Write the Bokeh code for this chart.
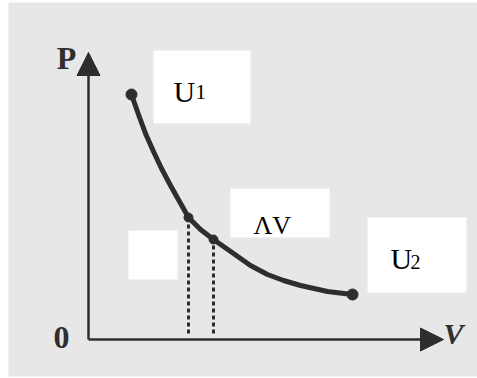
from bokeh.plotting import figure
from bokeh.models import Range1d, Arrow, NormalHead
from bokeh.core.properties import value
from bokeh.embed import file_html
from bokeh.resources import INLINE

# P-V curve (arbitrary units)
V_curve = [4.3, 5.0, 5.7, 6.5, 7.3, 8.2, 9.1, 10.0, 11.2, 12.5, 14.5, 16.2, 17.9, 19.5, 21.2, 23.9, 26.4]
P_curve = [24.5, 22.5, 20.6, 18.8, 17.1, 15.4, 13.8, 12.2, 11.0, 10.0, 8.6, 7.4, 6.5, 5.9, 5.4, 4.8, 4.5]

# marked states: U1, two points bounding dV, U2
V_states = [4.3, 10.0, 12.5, 26.4]
P_states = [24.5, 12.2, 10.0, 4.5]
state_sizes = [11, 9, 9, 11]

# dashed drop lines for the dV strip
V_drop = [10.0, 12.5]
P_drop_top = [12.2, 10.0]
P_drop_bottom = [0.6, 0.6]

# white label boxes (left, right, top, bottom)
box_left = [6.5, 14.2, 4.0, 27.9]
box_right = [16.2, 24.1, 8.9, 37.8]
box_top = [28.9, 15.1, 10.9, 12.2]
box_bottom = [21.6, 10.2, 6.0, 4.7]

INK = "#2e2e2e"
BG = "#e7e7e7"

p = figure(width=477, height=378, output_backend="svg", toolbar_location=None,
           x_range=Range1d(-8.0, 38.9), y_range=Range1d(-3.7, 33.7),
           min_border=0, min_border_left=8, min_border_bottom=2, min_border_top=2,
           background_fill_color=BG, border_fill_color="white")
p.xaxis.visible = False
p.yaxis.visible = False
p.grid.visible = False
p.outline_line_color = None

# axes with arrow heads
p.add_layout(Arrow(end=NormalHead(size=23, fill_color=INK, line_color=INK),
                   x_start=0, y_start=0, x_end=0, y_end=28.7,
                   line_width=2.5, line_color=INK))
p.add_layout(Arrow(end=NormalHead(size=23, fill_color=INK, line_color=INK),
                   x_start=0, y_start=0, x_end=35.5, y_end=0,
                   line_width=2.5, line_color=INK))

# dashed drop lines
p.segment(x0=V_drop, y0=P_drop_bottom, x1=V_drop, y1=P_drop_top,
          line_color=INK, line_width=3, line_dash="4 3")

# curve and states
p.line(V_curve, P_curve, line_color=INK, line_width=5, line_join="round", line_cap="round")
p.scatter(V_states, P_states, size=state_sizes, fill_color=INK, line_color=INK)

# white boxes
p.quad(left=box_left, right=box_right, top=box_top, bottom=box_bottom,
       fill_color="white", line_color=None)

serif = value("Liberation Serif")

# axis labels
p.text(x=[-2.2], y=[28.2], text=["P"], text_font=serif, text_font_size="32px",
       text_font_style="bold", text_align="center", text_baseline="alphabetic", text_color=INK)
p.text(x=[-2.7], y=[0.2], text=["0"], text_font=serif, text_font_size="32px",
       text_font_style="bold", text_align="center", text_baseline="alphabetic", text_color=INK)
p.text(x=[36.5], y=[0.6], text=["V"], text_font=serif, text_font_size="30px",
       text_font_style="bold italic", text_align="center", text_baseline="alphabetic", text_color=INK)

# state labels
p.text(x=[8.5], y=[24.8], text=["U"], text_font=serif, text_font_size="30px",
       text_align="left", text_baseline="alphabetic", text_color="black")
p.text(x=[10.7], y=[24.8], text=["1"], text_font=serif, text_font_size="21px",
       text_align="left", text_baseline="alphabetic", text_color="black")
p.text(x=[30.2], y=[8.1], text=["U"], text_font=serif, text_font_size="30px",
       text_align="left", text_baseline="alphabetic", text_color="black")
p.text(x=[32.2], y=[7.8], text=["2"], text_font=serif, text_font_size="20px",
       text_align="left", text_baseline="alphabetic", text_color="black")
p.text(x=[16.5], y=[11.4], text=["ΛV"], text_font=serif, text_font_size="26px",
       text_align="left", text_baseline="alphabetic", text_color="black")

open("out.html", "w").write(file_html(p, INLINE))
